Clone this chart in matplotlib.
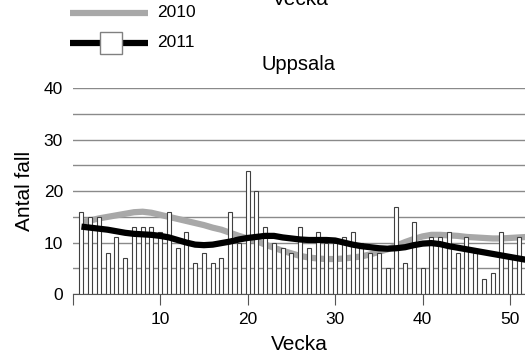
import matplotlib.pyplot as plt
from matplotlib.lines import Line2D

plt.rcParams['font.family'] = ['Liberation Sans', 'DejaVu Sans']

# weekly counts (bars) for 2011, weeks 1..51
weeks = list(range(1, 52))
cases = [16, 15, 15, 8, 11, 7, 13, 13, 13, 12,
         16, 9, 12, 6, 8, 6, 7, 16, 10, 24,
         20, 13, 10, 9, 8, 13, 9, 12, 10, 10,
         11, 12, 10, 8, 8, 5, 17, 6, 14, 5,
         11, 11, 12, 8, 11, 8, 3, 4, 12, 7,
         11]

# smoothed curves, weeks 1..52
line_weeks = list(range(1, 53))
trend_2010 = [14.0, 14.3, 14.7, 15.0, 15.3, 15.6, 15.9, 16.0, 15.8, 15.4,
              15.0, 14.6, 14.2, 13.8, 13.4, 12.9, 12.5, 11.9, 11.3, 10.8,
              10.3, 9.6, 9.0, 8.4, 7.9, 7.4, 7.1, 6.9, 6.8, 6.8,
              6.9, 7.1, 7.3, 7.7, 8.2, 8.7, 9.4, 10.1, 10.7, 11.2,
              11.5, 11.5, 11.4, 11.3, 11.1, 11.0, 10.9, 10.8, 10.8, 10.9,
              11.0, 11.1]
trend_2011 = [13.1, 12.9, 12.7, 12.5, 12.2, 11.9, 11.7, 11.6, 11.5, 11.3,
              11.0, 10.5, 10.0, 9.6, 9.5, 9.6, 9.9, 10.2, 10.6, 10.9,
              11.1, 11.3, 11.3, 11.0, 10.8, 10.6, 10.5, 10.5, 10.5, 10.4,
              10.0, 9.6, 9.3, 9.1, 8.9, 8.8, 8.9, 9.1, 9.5, 9.8,
              9.9, 9.7, 9.3, 9.0, 8.7, 8.4, 8.1, 7.8, 7.5, 7.2,
              6.9, 6.6]

W, H = 525, 361
fig = plt.figure(figsize=(W / 100, H / 100), dpi=100)
ax = fig.add_axes([72.7 / W, 67 / H, (W - 72.7) / W, 205.7 / H])

ax.plot(line_weeks, trend_2010, color='#a8a8a8', lw=4.5, zorder=2,
        solid_capstyle='butt')
ax.bar(weeks, cases, width=0.46, color='white', edgecolor='#404040',
       linewidth=0.8, zorder=3)
ax.plot(line_weeks, trend_2011, color='black', lw=4.5, zorder=4,
        solid_capstyle='butt')

ax.set_xlim(0, 51.7)
ax.set_ylim(0, 40)
ax.set_yticks(range(0, 41, 10))
ax.set_yticks(range(0, 41, 5), minor=True)
ax.set_xticks([0, 10, 20, 30, 40, 50])
ax.set_xticklabels(['', '10', '20', '30', '40', '50'])
ax.grid(axis='y', which='both', color='#8a8a8a', lw=1.0, zorder=0)
ax.set_axisbelow(True)

for s in ['top', 'right', 'left']:
    ax.spines[s].set_visible(False)
ax.spines['bottom'].set_color('#555555')
ax.tick_params(axis='x', length=8, color='#555555', labelsize=12.5, pad=5)
ax.tick_params(axis='y', which='both', length=0, labelsize=12.5, pad=7)

ax.set_xlabel('Vecka', fontsize=15, labelpad=6)
ax.set_ylabel('Antal fall', fontsize=15, labelpad=7)
ax.set_title('Uppsala', fontsize=14.5, pad=13)

# cut-off label from the chart above
fig.text(300 / W, 1 - 5 / H, 'Vecka', fontsize=15, ha='center', va='baseline')

# legend drawn by hand
def fy(py):
    return 1 - py / H

fig.add_artist(Line2D([70 / W, 148 / W], [fy(12.7), fy(12.7)],
                      color='#a8a8a8', lw=4.5, solid_capstyle='butt'))
fig.add_artist(Line2D([70 / W, 148 / W], [fy(42.7), fy(42.7)],
                      color='black', lw=4.5, solid_capstyle='butt'))
fig.add_artist(Line2D([111 / W], [fy(42.7)], marker='s', markersize=16.5,
                      markerfacecolor='white', markeredgecolor='#808080',
                      markeredgewidth=1.0, lw=0))
fig.text(157 / W, fy(12.7), '2010', fontsize=12.5, va='center')
fig.text(157 / W, fy(42.7), '2011', fontsize=12.5, va='center')

fig.savefig('out.png', dpi=100)
